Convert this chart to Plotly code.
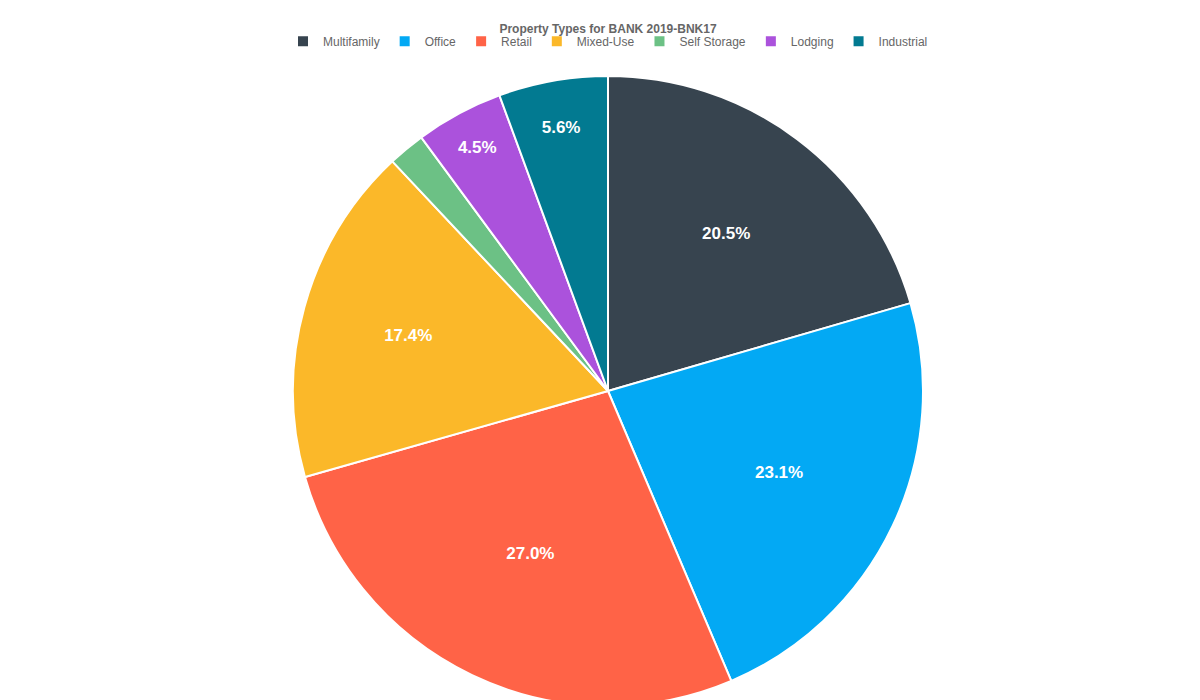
import plotly.graph_objects as go

labels = ["Multifamily", "Office", "Retail", "Mixed-Use", "Self Storage", "Lodging", "Industrial"]
values = [20.5, 23.1, 27.0, 17.4, 1.9, 4.5, 5.6]
colors = ["#37444f", "#03a9f4", "#ff6347", "#fbb829", "#6cc185", "#ab52dc", "#027a91"]
templates = ["%{percent:.1%}"] * 4 + [""] + ["%{percent:.1%}"] * 2

fig = go.Figure(go.Pie(
    labels=labels, values=values, sort=False, direction="clockwise", rotation=0,
    marker=dict(colors=colors, line=dict(color="white", width=2)),
    texttemplate=templates, textposition="inside", insidetextorientation="horizontal",
    textfont=dict(color="white", size=17, family="Liberation Sans, Arial", weight="bold"),
    hoverinfo="label+percent",
))
fig.update_layout(
    width=1200, height=700, paper_bgcolor="white",
    margin=dict(t=68, b=2, l=0, r=0),
    title=dict(text="<b>Property Types for BANK 2019-BNK17</b>", x=0.5, y=0.977, xanchor="center",
               font=dict(size=12, color="#666", family="Liberation Sans, Arial")),
    legend=dict(orientation="h", x=0.5, xanchor="center", y=1.055, yanchor="middle",
                font=dict(size=12, color="#666", family="Liberation Sans, Arial")),
    uniformtext=dict(minsize=10, mode="show"),
)
fig.write_html("out.html")
